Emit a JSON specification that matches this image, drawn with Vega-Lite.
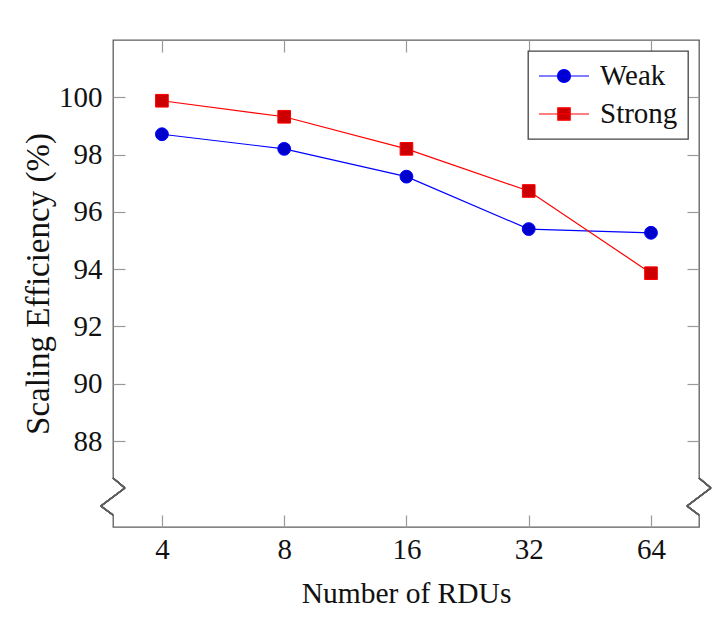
{
  "$schema": "https://vega.github.io/schema/vega-lite/v6.json",
  "width": 586,
  "height": 487,
  "autosize": {"type": "none"},
  "padding": {"left": 113, "top": 40, "right": 14, "bottom": 102},
  "background": "white",
  "config": {
    "view": {"stroke": "#5e5e5e", "strokeWidth": 1.3},
    "font": "Liberation Serif",
    "axis": {
      "labelFont": "Liberation Serif", "titleFont": "Liberation Serif",
      "labelFontSize": 29, "titleFontSize": 29.5,
      "labelColor": "#111", "titleColor": "#111", "titleFontWeight": "normal",
      "grid": false, "domain": false,
      "tickColor": "#9a9a9a", "tickSize": -12, "tickWidth": 1.2
    },
    "legend": {
      "labelFont": "Liberation Serif", "labelFontSize": 29, "labelColor": "#111"
    }
  },
  "data": {
    "values": [
      {"rdus": 4, "eff": 98.71, "series": "Weak"},
      {"rdus": 8, "eff": 98.20, "series": "Weak"},
      {"rdus": 16, "eff": 97.23, "series": "Weak"},
      {"rdus": 32, "eff": 95.40, "series": "Weak"},
      {"rdus": 64, "eff": 95.27, "series": "Weak"},
      {"rdus": 4, "eff": 99.88, "series": "Strong"},
      {"rdus": 8, "eff": 99.32, "series": "Strong"},
      {"rdus": 16, "eff": 98.20, "series": "Strong"},
      {"rdus": 32, "eff": 96.73, "series": "Strong"},
      {"rdus": 64, "eff": 93.86, "series": "Strong"}
    ]
  },
  "resolve": {"axis": {"x": "independent", "y": "independent"}},
  "layer": [
    {
      "mark": {"type": "line", "strokeWidth": 1.2},
      "encoding": {
        "x": {
          "field": "rdus", "type": "quantitative",
          "scale": {"type": "log", "base": 2, "domain": [3.031, 84.02], "nice": false},
          "axis": {"orient": "bottom", "values": [4, 8, 16, 32, 64], "title": "Number of RDUs", "labelPadding": 20, "titlePadding": 15, "labelFlush": false}
        },
        "y": {
          "field": "eff", "type": "quantitative",
          "scale": {"domain": [85, 102], "nice": false, "zero": false},
          "axis": {"orient": "left", "values": [88, 90, 92, 94, 96, 98, 100], "title": "Scaling Efficiency (%)", "titleFontSize": 33, "labelPadding": 23, "titlePadding": 3, "labelFlush": false}
        },
        "color": {
          "field": "series", "type": "nominal",
          "scale": {"domain": ["Weak", "Strong"], "range": ["#0000ff", "#ff0000"]},
          "legend": {
            "title": null, "orient": "top-right", "offset": 11,
            "padding": 10, "rowPadding": 8, "labelOffset": 21, "symbolOffset": 11,
            "strokeColor": "#444", "fillColor": "white",
            "symbolSize": 784,
            "encode": {
              "legend": {"update": {"strokeWidth": {"value": 1.3}}},
              "symbols": {
                "update": {
                  "shape": {"signal": "datum.value === 'Weak' ? 'M-1.786,0H1.786M-0.464,0A0.464,0.464,0,1,1,0.464,0A0.464,0.464,0,1,1,-0.464,0Z' : 'M-1.786,0H1.786M-0.443,-0.443H0.443V0.443H-0.443Z'"},
                  "fill": {"signal": "datum.value === 'Weak' ? '#0000cc' : '#cc0000'"},
                  "stroke": {"signal": "datum.value === 'Weak' ? '#0000ff' : '#ff0000'"},
                  "strokeWidth": {"value": 1.2},
                  "size": {"value": 784},
                  "opacity": {"value": 1},
                  "fillOpacity": {"value": 1},
                  "strokeOpacity": {"value": 1}
                }
              }
            }
          }
        }
      }
    },
    {
      "transform": [{"filter": "datum.series === 'Weak'"}],
      "mark": {"type": "point", "shape": "circle", "filled": true, "size": 165, "strokeWidth": 1, "opacity": 1, "fill": "#0000cc", "stroke": "#0000ff"},
      "encoding": {
        "x": {
          "field": "rdus", "type": "quantitative",
          "axis": {"orient": "top", "values": [4, 8, 16, 32, 64], "labels": false, "title": null}
        },
        "y": {
          "field": "eff", "type": "quantitative",
          "axis": {"orient": "right", "values": [88, 90, 92, 94, 96, 98, 100], "labels": false, "title": null}
        }
      }
    },
    {
      "transform": [{"filter": "datum.series === 'Strong'"}],
      "mark": {"type": "point", "shape": "square", "filled": true, "size": 160, "strokeWidth": 1, "opacity": 1, "fill": "#cc0000", "stroke": "#ff0000"},
      "encoding": {
        "x": {"field": "rdus", "type": "quantitative", "axis": null},
        "y": {"field": "eff", "type": "quantitative", "axis": null}
      }
    },
    {"mark": {"type": "rule", "color": "white", "strokeWidth": 4}, "encoding": {"x": {"datum": 3.031, "axis": null}, "y": {"datum": 86.71, "axis": null}, "y2": {"datum": 85.42}}},
    {"mark": {"type": "rule", "color": "white", "strokeWidth": 4}, "encoding": {"x": {"datum": 84.02, "axis": null}, "y": {"datum": 86.71, "axis": null}, "y2": {"datum": 85.42}}},
    {"mark": {"type": "rule", "color": "#5e5e5e", "strokeWidth": 1.3}, "encoding": {"x": {"datum": 3.031, "axis": null}, "x2": {"datum": 3.243}, "y": {"datum": 86.71, "axis": null}, "y2": {"datum": 86.36}}},
    {"mark": {"type": "rule", "color": "#5e5e5e", "strokeWidth": 1.3}, "encoding": {"x": {"datum": 3.243, "axis": null}, "x2": {"datum": 2.83}, "y": {"datum": 86.36, "axis": null}, "y2": {"datum": 85.73}}},
    {"mark": {"type": "rule", "color": "#5e5e5e", "strokeWidth": 1.3}, "encoding": {"x": {"datum": 2.83, "axis": null}, "x2": {"datum": 3.031}, "y": {"datum": 85.73, "axis": null}, "y2": {"datum": 85.42}}},
    {"mark": {"type": "rule", "color": "#5e5e5e", "strokeWidth": 1.3}, "encoding": {"x": {"datum": 84.02, "axis": null}, "x2": {"datum": 89.9}, "y": {"datum": 86.71, "axis": null}, "y2": {"datum": 86.36}}},
    {"mark": {"type": "rule", "color": "#5e5e5e", "strokeWidth": 1.3}, "encoding": {"x": {"datum": 89.9, "axis": null}, "x2": {"datum": 78.5}, "y": {"datum": 86.36, "axis": null}, "y2": {"datum": 85.73}}},
    {"mark": {"type": "rule", "color": "#5e5e5e", "strokeWidth": 1.3}, "encoding": {"x": {"datum": 78.5, "axis": null}, "x2": {"datum": 84.02}, "y": {"datum": 85.73, "axis": null}, "y2": {"datum": 85.42}}}
  ]
}
